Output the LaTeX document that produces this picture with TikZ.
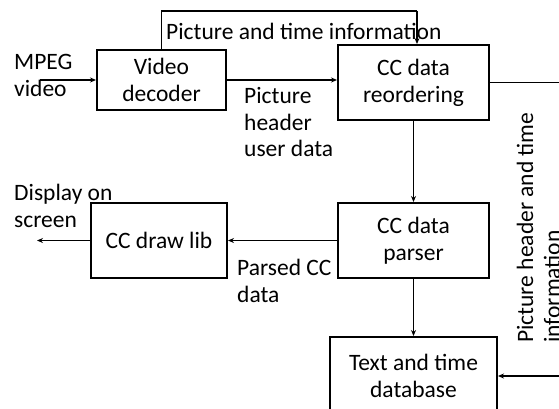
\documentclass[tikz,border=0pt]{standalone}
\usepackage{fontspec}
\setmainfont{Carlito}
\usetikzlibrary{arrows.meta, positioning, calc}

\begin{document}
\begin{tikzpicture}[
  x=1pt, y=-1pt,
  font=\fontsize{23.5pt}{27pt}\selectfont,
  block/.style={rectangle, draw, line width=2pt, align=center, inner sep=0pt},
  arrow/.style={-{Stealth[length=6pt, width=5pt]}, line width=1.1pt},
  link/.style={line width=1.1pt},
  lbl/.style={align=left, inner sep=0pt, anchor=base west},
]
  \clip (0,0) rectangle (559,409);

  \node[block, minimum width=129pt, minimum height=60pt] (dec) at (161.5,80) {Video\\decoder};
  \node[block, minimum width=151pt, minimum height=75pt] (reord) at (413.5,82.5) {CC data\\reordering};
  \node[block, minimum width=151pt, minimum height=75pt] (parser) at (413.5,240.5) {CC data\\parser};
  \node[block, minimum width=136pt, minimum height=75pt] (drawlib) at (159,240.5) {CC draw lib};
  \node[block, minimum width=167pt, minimum height=78pt] (db) at (413.5,376) {Text and time\\database};

  \coordinate (mpegin) at (40,80);
  \coordinate (dispout) at (37,240.5);
  \coordinate (topr) at (417,11);
  \coordinate (rcorner) at (565,82.5);

  \draw[arrow] (mpegin) -- (mpegin -| dec.west);
  \draw[arrow] (dec.east) -- (dec.east -| reord.west);
  \draw[link] (dec.north) |- (topr);
  \draw[arrow] (topr) -- (topr |- reord.north);
  \draw[arrow] (reord) -- (parser);
  \draw[arrow] (parser) -- (drawlib);
  \draw[arrow] (drawlib.west) -- (dispout);
  \draw[arrow] (parser) -- (db);
  \draw[arrow] (reord.east) -- (rcorner) |- (db.east);

  % labels (anchored on the last line)
  \node[lbl] (lmpeg) at (14,97) {MPEG\\video};
  \node[lbl] (ltop) at (166,40) {Picture and time information};
  \node[lbl] (lhdr) at (244,157) {Picture\\header\\user data};
  \node[lbl] (lparsed) at (237,302) {Parsed CC\\data};
  \node[lbl] (ldisp) at (14,227) {Display on\\screen};
  \node[lbl, rotate=90] (lside) at (560,343) {Picture header and time\\information};
\end{tikzpicture}
\end{document}
